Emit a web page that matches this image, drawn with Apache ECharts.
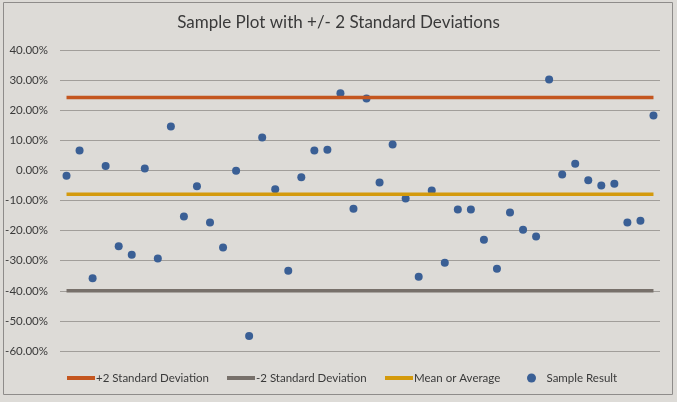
<!DOCTYPE html>
<html>
<head>
<meta charset="utf-8">
<script src="https://cdn.jsdelivr.net/npm/echarts@6/dist/echarts.min.js"></script>
<style>
  html, body { margin: 0; padding: 0; background: #eeeeee; }
  #chart { width: 677px; height: 402px; }
</style>
</head>
<body>
<div id="chart"></div>
<script>
// sample number 1..46
var samples = [];
for (var i = 1; i <= 46; i++) samples.push(String(i));

// sample results in percent
var sampleResult = [
    -1.8, 6.6, -35.8, 1.5, -25.2, -28.0, 0.6, -29.3, 14.6, -15.3,
    -5.3, -17.3, -25.6, -0.1, -55.0, 10.9, -6.3, -33.3, -2.3, 6.6,
    6.9, 25.6, -12.7, 23.9, -4.0, 8.6, -9.3, -35.3, -6.7, -30.7,
    -13.0, -13.0, -23.0, -32.7, -14.0, -19.7, -22.0, 30.2, -1.4, 2.2,
    -3.3, -5.0, -4.4, -17.3, -16.7, 18.2
];

var plusTwoSD = 24.2;
var minusTwoSD = -40.0;
var meanValue = -7.9;

var yTicks = { min: -60, max: 40, interval: 10 };

var seriesNames = ['+2 Standard Deviation', '-2 Standard Deviation', 'Mean or Average', 'Sample Result'];

function flat(v) {
    return samples.map(function () { return v; });
}

function lineLegend(name, left) {
    return {
        left: left,
        top: 367,
        itemWidth: 28,
        itemHeight: 4,
        icon: 'rect',
        textStyle: { fontFamily: 'Lato', fontSize: 11.5, color: '#3a3a3a', padding: [0, 0, 0, -4] },
        data: [name]
    };
}

var myChart = echarts.init(document.getElementById('chart'));
var option = {
    backgroundColor: '#dddbd7',
    animation: false,
    textStyle: { fontFamily: 'Lato' },
    title: {
        text: 'Sample Plot with +/- 2 Standard Deviations',
        left: 'center',
        top: 9,
        textStyle: { fontFamily: 'Lato', fontSize: 17, fontWeight: 'normal', color: '#3a3a3a' }
    },
    graphic: [{
        type: 'rect',
        shape: { x: 3.5, y: 2.5, width: 669, height: 392 },
        style: { fill: 'none', stroke: '#8e8c8a', lineWidth: 1 },
        silent: true
    }],
    legend: [
        lineLegend(seriesNames[0], 62),
        lineLegend(seriesNames[1], 222),
        lineLegend(seriesNames[2], 380),
        {
            left: 522,
            top: 367,
            itemWidth: 16,
            itemHeight: 9,
            icon: 'circle',
            textStyle: { fontFamily: 'Lato', fontSize: 11.5, color: '#3a3a3a', padding: [0, 0, 0, 2] },
            data: [seriesNames[3]]
        }
    ],
    grid: { left: 60, right: 17, top: 50, bottom: 51 },
    xAxis: {
        type: 'category',
        boundaryGap: true,
        data: samples,
        axisLine: { show: false },
        axisTick: { show: false },
        axisLabel: { show: false },
        splitLine: { show: false }
    },
    yAxis: {
        type: 'value',
        min: yTicks.min,
        max: yTicks.max,
        interval: yTicks.interval,
        axisLine: { show: false },
        axisTick: { show: false },
        axisLabel: {
            margin: 12,
            fontFamily: 'Lato',
            fontSize: 11.5,
            color: '#3a3a3a',
            formatter: function (v) { return v.toFixed(2) + '%'; }
        },
        splitLine: { lineStyle: { color: '#a19e9a', width: 1 } }
    },
    series: [{
        name: seriesNames[0],
        type: 'line',
        data: flat(plusTwoSD),
        symbol: 'none',
        itemStyle: { color: '#c4561f' },
        lineStyle: { color: '#c4561f', width: 3.5 }
    }, {
        name: seriesNames[1],
        type: 'line',
        data: flat(minusTwoSD),
        symbol: 'none',
        itemStyle: { color: '#77706a' },
        lineStyle: { color: '#77706a', width: 3.5 }
    }, {
        name: seriesNames[2],
        type: 'line',
        data: flat(meanValue),
        symbol: 'none',
        itemStyle: { color: '#d49a0c' },
        lineStyle: { color: '#d49a0c', width: 3.5 }
    }, {
        name: seriesNames[3],
        type: 'scatter',
        data: sampleResult,
        symbolSize: 8,
        itemStyle: { color: '#3a5f95', opacity: 1 }
    }]
};

myChart.setOption(option);
</script>
</body>
</html>
